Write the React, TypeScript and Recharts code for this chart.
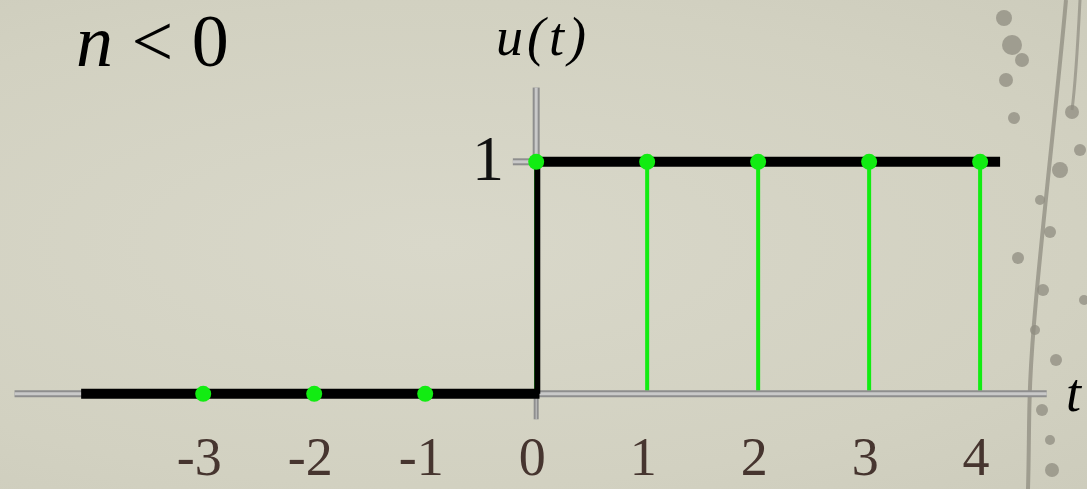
import { Bar, ComposedChart, Line, ReferenceLine, Scatter, XAxis, YAxis } from 'recharts'

// discrete samples of the unit step u(t)
const sampleTimes = [-3, -2, -1, 0, 1, 2, 3, 4]
const sampleValues = [0, 0, 0, 1, 1, 1, 1, 1]

// continuous step drawn in black, split into its three pieces
const stepLow = [
  { t: -4.1, u: 0 },
  { t: 0.03, u: 0 },
]
const stepRise = [
  { t: 0.01, u: 0 },
  { t: 0.01, u: 1 },
]
const stepHigh = [
  { t: -0.05, u: 1 },
  { t: 4.18, u: 1 },
]

// extent of the grey coordinate axes
const tAxisSpan = [-4.7, 4.6]
const uAxisAbove = [1, 1.32]
const uAxisBelow = [-0.11, 0]
const unitTickSpan = [-0.21, 0]

const samples = sampleTimes.map((t, i) => ({ t, u: sampleValues[i] }))

const GREEN = '#12ec12'
const AXIS_GREY = '#8e8e8e'
const AXIS_LIGHT = '#c9c9c9'
const SERIF = '"Liberation Serif", "Times New Roman", serif'

function TimeTick({ x, y, payload }: any) {
  return (
    <text
      x={x}
      y={y}
      dx={-4}
      dy={-8}
      textAnchor="middle"
      fontFamily={SERIF}
      fontSize={54}
      fill="#46352f"
    >
      {payload.value}
    </text>
  )
}

// stem from the baseline up to the sample, fixed 4px wide
function Stem({ x, y, width, height }: any) {
  if (!height) return null
  return <rect x={x + width / 2 - 2} y={y} width={4} height={height - 3} fill={GREEN} />
}

function Dot({ cx, cy }: any) {
  return <circle cx={cx} cy={cy} r={8} fill={GREEN} />
}

function GreyBar({ from, to, horizontal, at, width }: { from: number; to: number; horizontal: boolean; at: number; width: number }) {
  const segment = horizontal
    ? [
        { x: from, y: at },
        { x: to, y: at },
      ]
    : [
        { x: at, y: from },
        { x: at, y: to },
      ]
  return (
    <>
      <ReferenceLine segment={segment} stroke={AXIS_GREY} strokeWidth={width} ifOverflow="visible" />
      <ReferenceLine segment={segment} stroke={AXIS_LIGHT} strokeWidth={width - 4} ifOverflow="visible" />
    </>
  )
}

export default function App() {
  return (
    <div
      style={{
        position: 'fixed',
        left: 0,
        top: 0,
        width: 1087,
        height: 489,
        background: 'radial-gradient(ellipse at 40% 50%, #d9d8ca 0%, #d2d1c1 70%, #cdccbc 100%)',
        overflow: 'hidden',
      }}
    >
      <svg width={1087} height={489} style={{ position: 'absolute', left: 0, top: 0 }}>
        <path d="M1066 0 C1058 90 1045 200 1036 300 S1030 420 1028 489" stroke="#8f8c80" strokeWidth={4} fill="none" opacity={0.75} />
        <path d="M1080 0 C1078 40 1076 80 1072 110" stroke="#8f8c80" strokeWidth={3} fill="none" opacity={0.7} />
        {[
          [1004, 18, 8], [1012, 45, 10], [1022, 60, 7], [1006, 80, 7], [1014, 118, 6], [1072, 112, 7],
          [1080, 150, 6], [1060, 170, 8], [1040, 200, 5], [1050, 232, 6], [1018, 258, 6], [1043, 290, 6],
          [1035, 330, 5], [1056, 360, 6], [1042, 410, 6], [1050, 440, 5], [1052, 470, 7], [1084, 300, 5],
        ].map(([cx, cy, r], i) => (
          <circle key={i} cx={cx} cy={cy} r={r} fill="#8f8c80" opacity={0.75} />
        ))}
      </svg>

      <ComposedChart
        width={1087}
        height={489}
        data={samples}
        margin={{ top: 11, right: 7, bottom: 0, left: 9 }}
        style={{ position: 'absolute', left: 0, top: 0 }}
      >
        <XAxis
          type="number"
          dataKey="t"
          domain={[-4.75, 4.9]}
          ticks={sampleTimes}
          interval={0}
          axisLine={false}
          tickLine={false}
          height={14}
          tick={<TimeTick />}
          allowDataOverflow
        />
        <YAxis type="number" domain={[-0.35, 1.65]} hide allowDataOverflow />

        <GreyBar from={tAxisSpan[0]} to={tAxisSpan[1]} horizontal at={0} width={7} />
        <GreyBar from={uAxisAbove[0]} to={uAxisAbove[1]} horizontal={false} at={0} width={7} />
        <GreyBar from={uAxisBelow[0]} to={uAxisBelow[1]} horizontal={false} at={0} width={5} />
        <GreyBar from={unitTickSpan[0]} to={unitTickSpan[1]} horizontal at={1} width={7} />

        <Line data={stepLow} dataKey="u" stroke="#000" strokeWidth={10} dot={false} isAnimationActive={false} />
        <Line data={stepRise} dataKey="u" stroke="#000" strokeWidth={6} dot={false} isAnimationActive={false} />
        <Line data={stepHigh} dataKey="u" stroke="#000" strokeWidth={10} dot={false} isAnimationActive={false} />

        <Bar dataKey="u" fill={GREEN} shape={<Stem />} isAnimationActive={false} />
        <Scatter data={samples} dataKey="u" fill={GREEN} shape={<Dot />} isAnimationActive={false} />
      </ComposedChart>

      <div
        style={{
          position: 'absolute',
          left: 76,
          top: 0,
          fontFamily: SERIF,
          fontSize: 74,
          lineHeight: '82px',
          color: '#000',
          whiteSpace: 'pre',
        }}
      >
        <i>n</i> &lt; 0
      </div>
      <div
        style={{
          position: 'absolute',
          left: 496,
          top: 8,
          fontFamily: SERIF,
          fontSize: 54,
          lineHeight: '58px',
          fontStyle: 'italic',
          letterSpacing: 4,
          color: '#000',
        }}
      >
        u(t)
      </div>
      <div
        style={{
          position: 'absolute',
          left: 472,
          top: 122,
          fontFamily: SERIF,
          fontSize: 64,
          color: '#111',
        }}
      >
        1
      </div>
      <div
        style={{
          position: 'absolute',
          left: 1066,
          top: 362,
          fontFamily: SERIF,
          fontSize: 54,
          fontStyle: 'italic',
          color: '#000',
        }}
      >
        t
      </div>
    </div>
  )
}
